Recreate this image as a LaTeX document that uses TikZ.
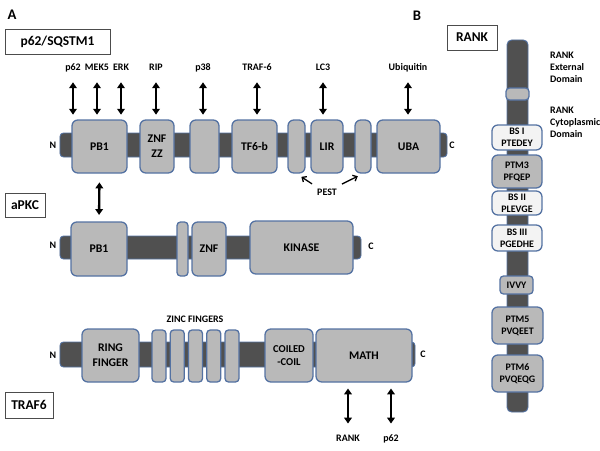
\documentclass[tikz,border=0pt]{standalone}
\usepackage{fontspec}
\setmainfont{Carlito}
\usepackage{xcolor}
\definecolor{domfill}{RGB}{185,185,185}
\definecolor{domline}{RGB}{84,114,162}
\definecolor{backbone}{RGB}{80,80,80}
\definecolor{pale}{RGB}{243,243,243}
\usepackage{tikz}
\usetikzlibrary{arrows.meta, positioning, calc}

\begin{document}
\begin{tikzpicture}[
        x=0.03cm, y=-0.03cm,
        dom/.style 2 args={rectangle, rounded corners=5pt, draw=domline, line width=1.1pt, fill=domfill, minimum width=#1, minimum height=#2, inner sep=0pt, align=center, font=\fontsize{10}{12.5}\selectfont\bfseries},
        site/.style 2 args={dom={#1}{#2}, fill=pale, font=\fontsize{8.5}{10.2}\selectfont\bfseries},
        bbone/.style 2 args={rectangle, rounded corners=3pt, draw=domline, line width=0.8pt, fill=backbone, minimum width=#1, minimum height=#2, inner sep=0pt},
        tag/.style={rectangle, draw=black!70, line width=0.6pt, fill=white, minimum width=#1, minimum height=0.75cm, font=\fontsize{11.5}{12}\selectfont\bfseries},
        panel/.style={font=\fontsize{12.5}{14}\selectfont\bfseries},
        lbl/.style={font=\fontsize{8.5}{10}\selectfont\bfseries, inner sep=1pt, text height=6pt, text depth=2pt},
        term/.style={font=\fontsize{8.5}{10.2}\selectfont\bfseries},
        arrow/.style={{Triangle[width=6.5pt,length=5pt]}-{Triangle[width=6.5pt,length=5pt]}, line width=2pt, shorten <=7pt, shorten >=4pt},
        pestarrow/.style={-{Straight Barb[length=3pt,width=5.5pt]}, line width=1.1pt, shorten <=1pt, shorten >=5pt}
    ]
        \useasboundingbox (0,0) rectangle (600,450);

        \node[panel] (pa) at (12,15) {A};
        \node[panel] (pb) at (417,16) {B};

        % p62/SQSTM1
        \node[tag=3.15cm] (p62tag) at (57.5,42) {p62/SQSTM1};
        \node[bbone={11.61cm}{0.72cm}] (bb1) at (253.5,145) {};
        \node[term] (n1) at (53,145) {N};
        \node[term] (c1) at (452,145) {C};
        \node[dom={1.65cm}{1.59cm}] (pb1a) at (99.5,146.5) {PB1};
        \node[dom={1.02cm}{1.59cm}] (zzz) at (157,146.5) {ZNF\\ZZ};
        \node[dom={0.87cm}{1.59cm}] (blank) at (204.5,146.5) {};
        \node[dom={1.35cm}{1.59cm}] (tf6b) at (254.5,146.5) {TF6-b};
        \node[dom={0.51cm}{1.59cm}] (pest1) at (296.5,146.5) {};
        \node[dom={0.96cm}{1.59cm}] (lir) at (327,146.5) {LIR};
        \node[dom={0.48cm}{1.59cm}] (pest2) at (363,146.5) {};
        \node[dom={1.89cm}{1.59cm}] (uba) at (408.5,146.5) {UBA};
        \node[term] (pest) at (327,192) {PEST};

        \node[lbl] (lp62) at (73,68) {p62};
        \node[lbl] (lmek) at (97,68) {MEK5};
        \node[lbl] (lerk) at (121,68) {ERK};
        \node[lbl] (lrip) at (156,68) {RIP};
        \node[lbl] (lp38) at (203,68) {p38};
        \node[lbl] (ltraf) at (257,68) {TRAF-6};
        \node[lbl] (llc3) at (323,68) {LC3};
        \node[lbl] (lubq) at (408,68) {Ubiquitin};

        % aPKC
        \node[tag=1.2cm, minimum height=0.72cm] (apkctag) at (25,205) {aPKC};
        \node[bbone={9.03cm}{0.69cm}] (bb2) at (210.5,247.5) {};
        \node[term] (n2) at (53,245) {N};
        \node[term] (c2) at (371,246) {C};
        \node[dom={1.68cm}{1.62cm}] (pb1b) at (99,249) {PB1};
        \node[dom={0.33cm}{1.62cm}, rounded corners=3pt] (thin) at (182.5,249) {};
        \node[dom={1.02cm}{1.62cm}] (znf) at (209,249) {ZNF};
        \node[dom={3.09cm}{1.59cm}] (kinase) at (301.5,247.5) {KINASE};

        % TRAF6
        \node[tag=1.44cm, minimum height=0.78cm] (traftag) at (29,405) {TRAF6};
        \node[bbone={10.65cm}{0.75cm}] (bb3) at (237.5,354.5) {};
        \node[term] (n3) at (53,355) {N};
        \node[term] (c3) at (423,354) {C};
        \node[dom={1.71cm}{1.59cm}] (ring) at (110.5,355.5) {RING\\FINGER};
        \foreach \i in {0,...,4}
            \node[dom={0.42cm}{1.56cm}, rounded corners=3pt] (zf\i) at (159+18.25*\i,356) {};
        \node[term] (zflbl) at (195,319) {ZINC FINGERS};
        \node[dom={1.44cm}{1.59cm}, font=\fontsize{9}{11.5}\selectfont\bfseries] (coil) at (289,355.5) {COILED\\-COIL};
        \node[dom={2.88cm}{1.59cm}] (math) at (364,355.5) {MATH};
        \node[lbl] (lrank) at (348,439) {RANK};
        \node[lbl] (lp62b) at (391,439) {p62};

        % RANK
        \node[tag=1.5cm] (ranktag) at (472,37.5) {RANK};
        \node[bbone={0.63cm}{11.16cm}, rounded corners=4pt] (bb4) at (517.5,226) {};
        \node[dom={0.69cm}{0.36cm}, rounded corners=3pt] (tm) at (517.5,94) {};
        \node[site={1.5cm}{0.75cm}] (bs1) at (517,137.5) {BS I\\PTEDEY};
        \node[dom={1.5cm}{0.99cm}, font=\fontsize{8.5}{10.2}\selectfont\bfseries] (ptm3) at (517,171.5) {PTM3\\PFQEP};
        \node[site={1.5cm}{0.72cm}] (bs2) at (517,203) {BS II\\PLEVGE};
        \node[site={1.5cm}{0.78cm}] (bs3) at (517,238) {BS III\\PGEDHE};
        \node[dom={0.99cm}{0.54cm}, rounded corners=3pt, font=\fontsize{8.5}{10.2}\selectfont\bfseries] (ivvy) at (516.5,285) {IVVY};
        \node[dom={1.53cm}{1.11cm}, font=\fontsize{8.5}{10.2}\selectfont\bfseries] (ptm5) at (517.5,325.5) {PTM5\\PVQEET};
        \node[dom={1.53cm}{1.11cm}, font=\fontsize{8.5}{10.2}\selectfont\bfseries] (ptm6) at (517.5,373.5) {PTM6\\PVQEQG};
        \node[term, align=left, anchor=west] (extlbl) at (546,67) {RANK\\External\\Domain};
        \node[term, align=left, anchor=west] (cytlbl) at (546,122) {RANK\\Cytoplasmic\\Domain};

        \draw[arrow] (lp62.south) -- (lp62.south |- pb1a.north);
        \draw[arrow] (lmek.south) -- (lmek.south |- pb1a.north);
        \draw[arrow] (lerk.south) -- (lerk.south |- pb1a.north);
        \draw[arrow] (lrip.south) -- (lrip.south |- zzz.north);
        \draw[arrow] (lp38.south) -- (lp38.south |- blank.north);
        \draw[arrow] (ltraf.south) -- (ltraf.south |- tf6b.north);
        \draw[arrow] (llc3.south) -- (llc3.south |- lir.north);
        \draw[arrow] (lubq.south) -- (lubq.south |- uba.north);
        \draw[pestarrow] (pest.north west) -- (pest1.south);
        \draw[pestarrow] (pest.north east) -- (pest2.south);
        \draw[arrow, shorten <=7.5pt, shorten >=5.5pt] (pb1a.south) -- (pb1b.north);
        \draw[arrow, shorten <=5pt, shorten >=8pt] (lrank.north |- math.south) -- (lrank.north);
        \draw[arrow, shorten <=5pt, shorten >=8pt] (lp62b.north |- math.south) -- (lp62b.north);
    \end{tikzpicture}
\end{document}
